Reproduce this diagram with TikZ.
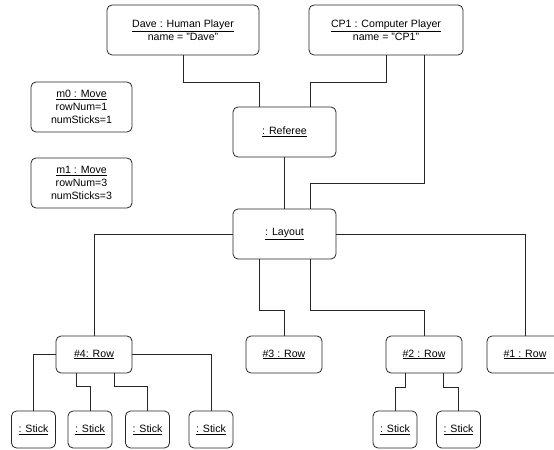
\documentclass[tikz,border=0pt]{standalone}
\usepackage{fontspec}
\setmainfont{Liberation Sans}
\begin{document}
\begin{tikzpicture}[x=1bp,y=-1bp,
    obj/.style={draw=black!85, line width=0.8bp, rounded corners=5bp, inner sep=0pt,
      align=center, font=\fontsize{10.6bp}{13.2bp}\selectfont},
    rowbox/.style={obj, minimum width=76bp, minimum height=37bp},
    stickbox/.style={obj, minimum width=44bp, minimum height=37bp},
    link/.style={draw=black!85, line width=0.8bp}]

    \clip (0,0) rectangle (554,450);

    % Players and referee
    \node[obj, minimum width=152bp, minimum height=50bp] (dave) at (183,30)
        {\underline{Dave : Human Player}\\name = "Dave"};
    \node[obj, minimum width=154bp, minimum height=50bp] (cp1) at (386,30)
        {\underline{CP1 : Computer Player}\\name = "CP1"};
    \node[obj, minimum width=103bp, minimum height=50bp] (referee) at (284.5,132)
        {\underline{: Referee}};
    \node[obj, minimum width=103bp, minimum height=50bp] (layout) at (284.5,234)
        {\underline{: Layout}};

    % Moves
    \node[obj, minimum width=101bp, minimum height=50bp] (m0) at (81.5,107)
        {\underline{m0 : Move}\\rowNum=1\\numSticks=1};
    \node[obj, minimum width=101bp, minimum height=50bp] (m1) at (81.5,183)
        {\underline{m1 : Move}\\rowNum=3\\numSticks=3};

    % Rows
    \node[rowbox] (row4) at (94,354.5) {\underline{\#4: Row}};
    \node[rowbox] (row3) at (284,354.5) {\underline{\#3 : Row}};
    \node[rowbox] (row2) at (424,354.5) {\underline{\#2 : Row}};
    \node[rowbox] (row1) at (525,354.5) {\underline{\#1 : Row}};

    % Sticks
    \node[stickbox] (s1) at (33.5,429.5) {\underline{: Stick}};
    \node[stickbox] (s2) at (90,429.5) {\underline{: Stick}};
    \node[stickbox] (s3) at (147.5,429.5) {\underline{: Stick}};
    \node[stickbox] (s4) at (211,429.5) {\underline{: Stick}};
    \node[stickbox] (s5) at (395,429.5) {\underline{: Stick}};
    \node[stickbox] (s6) at (458.5,429.5) {\underline{: Stick}};

    %-------------
    \draw[link] (dave.south) -- ++(0,27) -| ([xshift=-25.5bp]referee.north);
    \draw[link] (cp1.south) -- ++(0,27) -| ([xshift=25.5bp]referee.north);
    \draw[link] ([xshift=38bp]cp1.south) -- ++(0,128) -| ([xshift=25.5bp]layout.north);
    \draw[link] (referee.south) -- (layout.north);

    %-------------
    \draw[link] (layout.west) -| (row4.north);
    \draw[link] (layout.east) -| (row1.north);
    \draw[link] ([xshift=-25.5bp]layout.south) -- ++(0,51) -| (row3.north);
    \draw[link] ([xshift=25.5bp]layout.south) -- ++(0,51) -| (row2.north);

    %-------------
    \draw[link] (row4.west) -| (s1.north);
    \draw[link] (row4.east) -| (s4.north);
    \draw[link] ([xshift=-18bp]row4.south) -- ++(0,13) -| (s2.north);
    \draw[link] ([xshift=20bp]row4.south) -- ++(0,13) -| (s3.north);
    \draw[link] ([xshift=-19bp]row2.south) -- ++(0,14) -| (s5.north);
    \draw[link] ([xshift=19bp]row2.south) -- ++(0,14) -| (s6.north);

\end{tikzpicture}
\end{document}
